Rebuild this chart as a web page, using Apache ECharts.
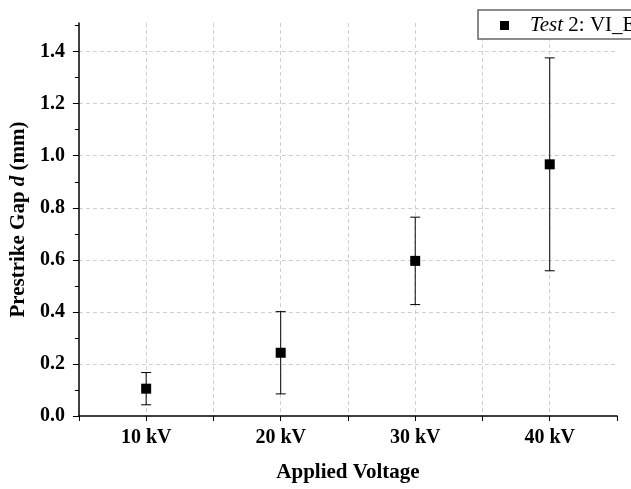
<!DOCTYPE html>
<html>
<head>
<meta charset="utf-8">
<script src="https://cdn.jsdelivr.net/npm/echarts@6/dist/echarts.min.js"></script>
<style>
html,body{margin:0;padding:0;background:#fff;}
#c{width:631px;height:489px;}
</style>
</head>
<body>
<div id="c"></div>
<script>
// Data
const voltages = [10, 20, 30, 40];            // kV
const gapMean  = [0.105, 0.243, 0.596, 0.967]; // mm
const gapErr   = [0.062, 0.158, 0.168, 0.409]; // mm (symmetric)
const seriesName = 'Test 2: VI_EB';
const yTickValues = [0, 0.2, 0.4, 0.6, 0.8, 1.0, 1.2, 1.4];

const serif = '"Liberation Serif", "Times New Roman", serif';

const chart = echarts.init(document.getElementById('c'), null, {renderer: 'canvas'});

const points = voltages.map((v, i) => [v, gapMean[i]]);
const bars = voltages.map((v, i) => [v, gapMean[i] - gapErr[i], gapMean[i] + gapErr[i]]);

const gridLine = {show: true, lineStyle: {color: '#cfcfcf', type: [4, 3], width: 1}};

chart.setOption({
  animation: false,
  backgroundColor: '#fff',
  grid: {left: 78, right: 14, top: 23, bottom: 73, containLabel: false},
  graphic: [{
    type: 'rect',
    z: 100,
    shape: {x: 478, y: 10, width: 220, height: 29},
    style: {fill: '#fff', stroke: '#666', lineWidth: 1.5}
  }],
  legend: {
    show: true,
    z: 110,
    data: [seriesName],
    left: 478, top: 10,
    padding: [5, 12, 4, 22],
    itemWidth: 9, itemHeight: 9,
    borderWidth: 0,
    formatter: function (name) {
      const rest = name.replace(/^Test/, '');
      return '{s|}{i|Test}{n|' + rest + '}';
    },
    textStyle: {
      fontFamily: serif, fontSize: 21, color: '#000', lineHeight: 20,
      rich: {
        s: {width: 16},
        i: {fontFamily: serif, fontSize: 21, fontStyle: 'italic', color: '#000'},
        n: {fontFamily: serif, fontSize: 21, color: '#000'}
      }
    }
  },
  xAxis: {
    type: 'value',
    min: 5, max: 45, interval: 5,
    name: 'Applied Voltage',
    nameLocation: 'middle',
    nameGap: 46,
    nameTextStyle: {fontFamily: serif, fontSize: 21, fontWeight: 'bold', color: '#000'},
    axisLine: {show: true, onZero: false, lineStyle: {color: '#000', width: 1.5}},
    axisTick: {show: true, inside: false, length: 5, lineStyle: {color: '#000', width: 1}},
    axisLabel: {
      margin: 12,
      fontFamily: serif, fontSize: 20, fontWeight: 'bold', color: '#000',
      formatter: function (v) { return (v % 10 === 0) ? (v + ' kV') : ''; }
    },
    splitLine: Object.assign({showMinLine: false, showMaxLine: false}, gridLine)
  },
  yAxis: {
    type: 'value',
    min: 0, max: 1.51, interval: 0.2,
    name: '{b|Prestrike Gap }{bi|d}{b| (mm)}',
    nameLocation: 'middle',
    nameRotate: 90,
    nameGap: 44,
    nameTextStyle: {
      fontFamily: serif, fontSize: 21, fontWeight: 'bold', color: '#000',
      rich: {
        b: {fontFamily: serif, fontSize: 21, fontWeight: 'bold', color: '#000'},
        bi: {fontFamily: serif, fontSize: 21, fontWeight: 'bold', fontStyle: 'italic', color: '#000'}
      }
    },
    axisLine: {show: true, onZero: false, lineStyle: {color: '#000', width: 1.5}},
    axisTick: {show: true, inside: false, length: 6, customValues: yTickValues, lineStyle: {color: '#000', width: 1}},
    minorTick: {show: true, splitNumber: 2, length: 4, lineStyle: {color: '#000', width: 1}},
    axisLabel: {
      margin: 14,
      fontFamily: serif, fontSize: 20, fontWeight: 'bold', color: '#000',
      customValues: yTickValues,
      formatter: function (v) { return v.toFixed(1); }
    },
    splitLine: Object.assign({showMinLine: false}, gridLine)
  },
  series: [
    {
      type: 'custom',
      name: 'error',
      data: bars,
      encode: {x: 0, y: [1, 2]},
      z: 3,
      renderItem: function (params, api) {
        const x = api.value(0);
        const top = api.coord([x, api.value(2)]);
        const bot = api.coord([x, api.value(1)]);
        const w = 5;
        const st = {stroke: '#000', lineWidth: 1};
        return {
          type: 'group',
          children: [
            {type: 'line', shape: {x1: top[0], y1: top[1], x2: bot[0], y2: bot[1]}, style: st},
            {type: 'line', shape: {x1: top[0] - w, y1: top[1], x2: top[0] + w, y2: top[1]}, style: st},
            {type: 'line', shape: {x1: bot[0] - w, y1: bot[1], x2: bot[0] + w, y2: bot[1]}, style: st}
          ]
        };
      }
    },
    {
      type: 'scatter',
      name: seriesName,
      data: points,
      symbol: 'rect',
      symbolSize: 10,
      z: 4,
      itemStyle: {color: '#000', opacity: 1}
    }
  ]
});
</script>
</body>
</html>
